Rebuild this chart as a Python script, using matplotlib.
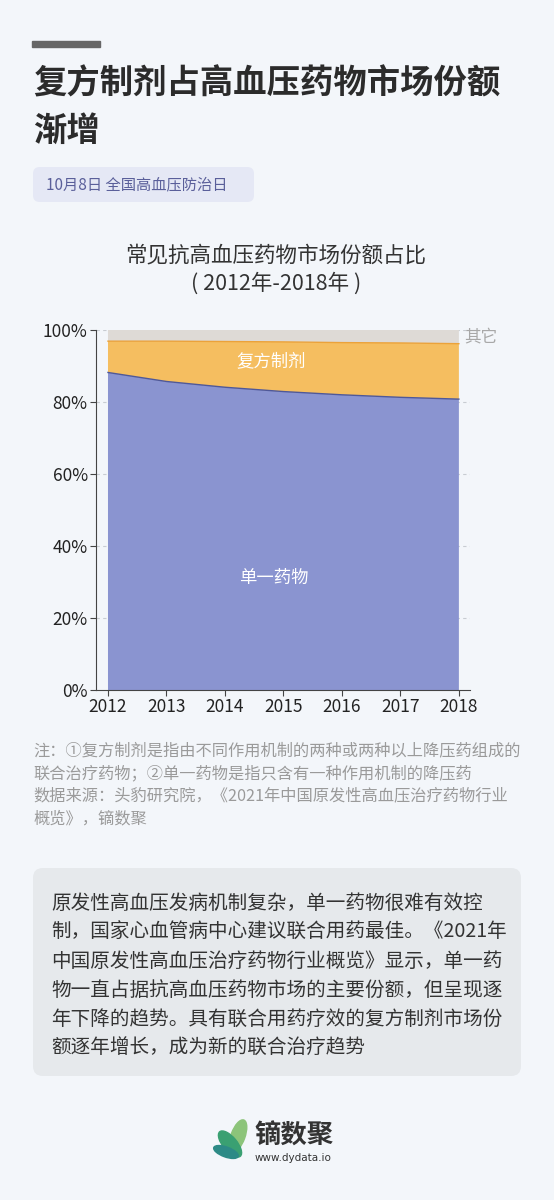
import matplotlib
matplotlib.use("Agg")
import matplotlib.pyplot as plt
from matplotlib.patches import FancyBboxPatch, Rectangle, Ellipse
import numpy as np

plt.rcParams['font.family'] = ['Noto Sans CJK SC', 'DejaVu Sans']

years = [2012, 2013, 2014, 2015, 2016, 2017, 2018]
single = [88.2, 85.7, 84.1, 82.9, 82.0, 81.3, 80.8]
compound_top = [96.9, 96.9, 96.8, 96.7, 96.5, 96.4, 96.2]
compound = [t - s for t, s in zip(compound_top, single)]
other = [100 - t for t in compound_top]
yticks = [0, 20, 40, 60, 80, 100]
ytick_labels = ["0%", "20%", "40%", "60%", "80%", "100%"]
series_names = ["单一药物", "复方制剂", "其它"]

W, H = 554, 1200
BG = "#f3f6fa"
fig = plt.figure(figsize=(W / 100, H / 100), dpi=100, facecolor=BG)

def fx(x):
    return x / W

def fy(y):
    return 1 - y / H

# top bar
fig.patches.append(Rectangle((fx(32), fy(47)), fx(100) - fx(32), 6 / H,
                             transform=fig.transFigure, color="#666666"))
# title
fig.text(fx(33), fy(84), "复方制剂占高血压药物市场份额", fontsize=24,
         fontweight="bold", color="#2b2b2b", va="center", ha="left")
fig.text(fx(33), fy(131), "渐增", fontsize=24, fontweight="bold",
         color="#2b2b2b", va="center", ha="left")
# tag
fig.patches.append(FancyBboxPatch((fx(33), fy(202)), fx(254) - fx(33), 35 / H,
                                  boxstyle="round,pad=0,rounding_size=0.012",
                                  transform=fig.transFigure, facecolor="#e5e8f5",
                                  edgecolor="none", mutation_aspect=W / H))
fig.text(fx(46), fy(185), "10月8日 全国高血压防治日", fontsize=11,
         color="#5a5f9a", va="center", ha="left")

# chart title
fig.text(fx(276), fy(255), "常见抗高血压药物市场份额占比", fontsize=15.5,
         color="#333333", ha="center", va="center")
fig.text(fx(276), fy(284), "( 2012年-2018年 )", fontsize=15.5,
         color="#333333", ha="center", va="center")

# axes
ax = fig.add_axes([fx(96), fy(690), fx(470) - fx(96), (690 - 330) / H])
ax.set_facecolor("none")
ax.stackplot(years, single, compound, other,
             colors=["#8a94d0", "#f5be60", "#dedad6"], linewidth=0)
ax.plot(years, single, color="#4f5898", lw=1.0)
ax.plot(years, compound_top, color="#eba23a", lw=1.0)
ax.set_xlim(2011.795, 2018.19)
ax.set_ylim(0, 100)
ax.set_yticks(yticks)
ax.set_yticklabels(ytick_labels)
ax.set_xticks(years)
ax.set_xticklabels([str(y) for y in years])
for y in yticks[1:]:
    ax.axhline(y, color="#c8ccd2", lw=0.8, ls=(0, (3, 3)), zorder=0)
for s in ["top", "right"]:
    ax.spines[s].set_visible(False)
ax.spines["left"].set_color("#444444")
ax.spines["bottom"].set_color("#444444")
ax.tick_params(axis="both", labelsize=12.5, colors="#444444", length=4, width=0.8,
               labelcolor="#222222")
ax.tick_params(axis="x", pad=2)
ax.tick_params(axis="y", pad=2)

ax.text(2014.79, (single[3] + compound_top[3]) / 2 + 1.5, series_names[1],
        color="white", fontsize=12.5, ha="center", va="center")
ax.text(2014.83, 31, series_names[0], color="white", fontsize=12.5,
        ha="center", va="center")
ax.text(2018.1, 98.2, series_names[2], color="#a8a8a8", fontsize=12,
        ha="left", va="center", clip_on=False)

# notes
notes = ["注：①复方制剂是指由不同作用机制的两种或两种以上降压药组成的",
         "联合治疗药物；②单一药物是指只含有一种作用机制的降压药",
         "数据来源：头豹研究院，《2021年中国原发性高血压治疗药物行业",
         "概览》，镝数聚"]
for i, line in enumerate(notes):
    fig.text(fx(33), fy(751 + i * 22.6), line, fontsize=11.7, color="#9a9a9a",
             ha="left", va="center")

# box
fig.patches.append(FancyBboxPatch((fx(33), fy(1076)), fx(521) - fx(33), (1076 - 868) / H,
                                  boxstyle="round,pad=0,rounding_size=0.018",
                                  transform=fig.transFigure, facecolor="#e6e9ec",
                                  edgecolor="none", mutation_aspect=W / H))
para = ["原发性高血压发病机制复杂，单一药物很难有效控",
        "制，国家心血管病中心建议联合用药最佳。《2021年",
        "中国原发性高血压治疗药物行业概览》显示，单一药",
        "物一直占据抗高血压药物市场的主要份额，但呈现逐",
        "年下降的趋势。具有联合用药疗效的复方制剂市场份",
        "额逐年增长，成为新的联合治疗趋势"]
for i, line in enumerate(para):
    fig.text(fx(51), fy(903 + i * 29), line, fontsize=14.1, color="#333333",
             ha="left", va="center")

# logo
lax = fig.add_axes([fx(200), fy(1170), fx(60), 60 / H])
lax.set_xlim(0, 60)
lax.set_ylim(0, 60)
lax.set_aspect("equal")
lax.axis("off")
lax.add_patch(Ellipse((38, 34), 14, 34, angle=-20, color="#8cc47a"))
lax.add_patch(Ellipse((30, 26), 14, 32, angle=40, color="#3aa072"))
lax.add_patch(Ellipse((26, 18), 10, 26, angle=70, color="#2d8a86"))
fig.text(fx(254), fy(1136), "镝数聚", fontsize=19, fontweight="bold",
         color="#333333", ha="left", va="center")
fig.text(fx(255), fy(1158), "www.dydata.io", fontsize=7.5, color="#333333",
         ha="left", va="center", family=["DejaVu Sans"])

fig.savefig("out.png", dpi=100, facecolor=BG)
